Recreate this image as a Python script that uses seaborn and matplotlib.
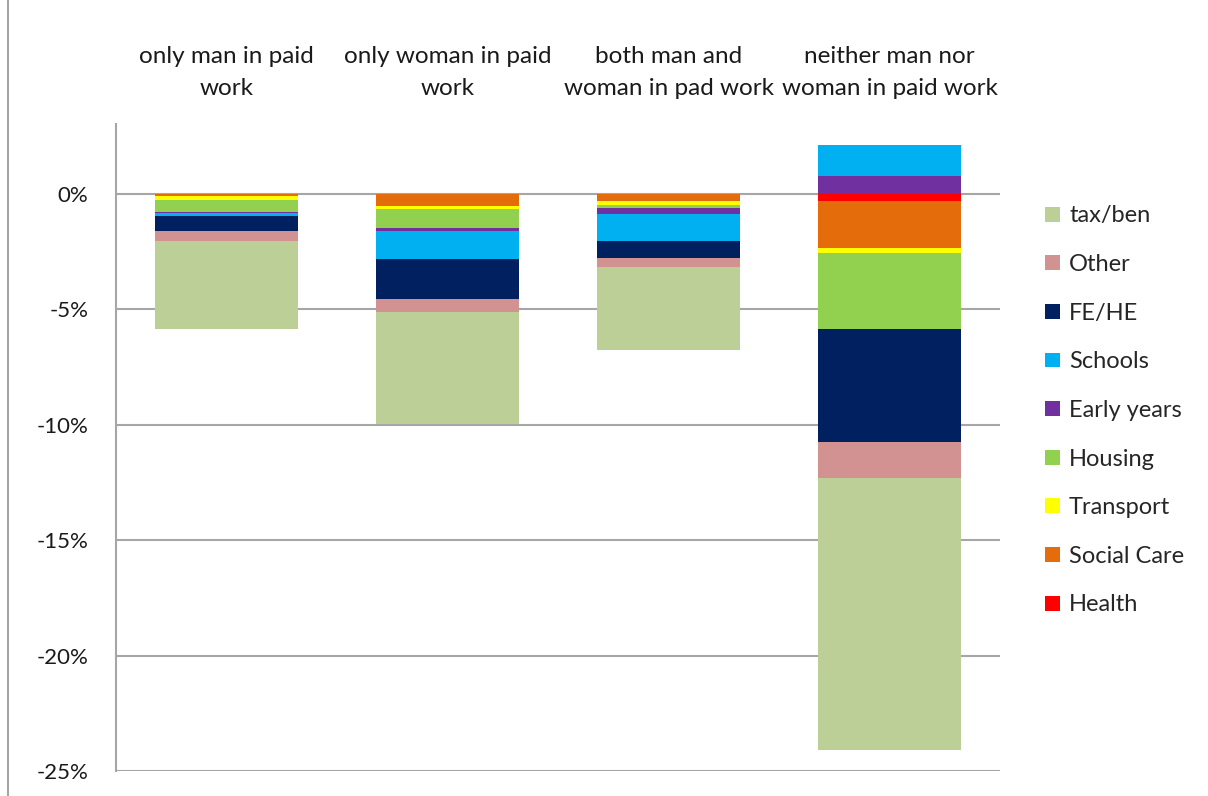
import numpy as np
import pandas as pd
import matplotlib
matplotlib.use("Agg")
import matplotlib.pyplot as plt
import seaborn as sns
from matplotlib.patches import Patch
from matplotlib.lines import Line2D

# Household groups (top category labels)
groups = ["only man in paid\nwork", "only woman in paid\nwork",
          "both man and\nwoman in pad work", "neither man nor\nwoman in paid work"]

# Change as % of income, per service
health = [-0.01, -0.01, -0.01, -0.30]
social_care = [-0.08, -0.50, -0.28, -2.05]
transport = [-0.17, -0.15, -0.18, -0.22]
housing = [-0.53, -0.80, -0.12, -3.26]
early_years = [-0.02, -0.14, -0.29, 0.79]
schools = [-0.15, -1.23, -1.15, 1.31]
fe_he = [-0.66, -1.73, -0.75, -4.92]
other = [-0.42, -0.54, -0.39, -1.57]
tax_ben = [-3.81, -4.86, -3.58, -11.76]

# stack order from zero outwards
series = ["Health", "Social Care", "Transport", "Housing", "Early years",
          "Schools", "FE/HE", "Other", "tax/ben"]
values = [health, social_care, transport, housing, early_years,
          schools, fe_he, other, tax_ben]
colors = {"Health": "#FF0000", "Social Care": "#E46C0A", "Transport": "#FFFF00",
          "Housing": "#92D050", "Early years": "#7030A0", "Schools": "#00B0F0",
          "FE/HE": "#002060", "Other": "#D39292", "tax/ben": "#BBCF97"}

sns.set_style("white")
plt.rcParams["font.family"] = ["Lato", "DejaVu Sans"]

fig = plt.figure(figsize=(12.08, 7.96), dpi=100)
ax = fig.add_axes([116 / 1208, 1 - 771 / 796, 884 / 1208, 647 / 796])

# build cumulative stacks, split into negative and positive parts
vals = np.array(values)
neg = np.cumsum(np.where(vals < 0, vals, 0), axis=0)
pos = np.cumsum(np.where(vals > 0, vals, 0), axis=0)

# draw outermost first so inner segments sit on top
for i in range(len(series) - 1, -1, -1):
    for cum in (neg[i], pos[i]):
        df = pd.DataFrame({"group": groups, "value": cum})
        sns.barplot(data=df, x="group", y="value", order=groups,
                    color=colors[series[i]], saturation=1, width=0.65,
                    linewidth=0, errorbar=None, ax=ax)

ax.set_xlim(-0.5, 3.5)
ax.set_ylim(-25, 3.03)
ax.set_yticks([0, -5, -10, -15, -20, -25])
ax.set_yticklabels(["0%", "-5%", "-10%", "-15%", "-20%", "-25%"])
ax.yaxis.grid(True, color="#a6a6a6", linewidth=1.5)
ax.set_axisbelow(True)
ax.set_xlabel("")
ax.set_ylabel("")

ax.xaxis.tick_top()
ax.set_xticks(range(len(groups)))
ax.set_xticklabels(groups, linespacing=1.62)
ax.tick_params(axis="x", length=0, pad=18, labelsize=17.5, colors="#1a1a1a")
ax.tick_params(axis="y", length=0, pad=20, labelsize=16, colors="#1a1a1a")

for s in ["top", "right", "bottom"]:
    ax.spines[s].set_visible(False)
ax.spines["left"].set_color("#a6a6a6")
ax.spines["left"].set_linewidth(1.5)

# legend, tax/ben at top
handles = [Patch(facecolor=colors[s], edgecolor="none") for s in series[::-1]]
leg = fig.legend(handles, series[::-1], loc="upper left",
                 bbox_to_anchor=(1036 / 1208, 1 - 196 / 796), frameon=False,
                 fontsize=17, handlelength=0.6, handleheight=0.6,
                 handletextpad=0.4, labelspacing=1.17, borderaxespad=0)

# frame line on left edge of the picture
fig.add_artist(Line2D([8 / 1208, 8 / 1208], [0, 1], color="#a6a6a6",
                      linewidth=1.5, transform=fig.transFigure))

fig.savefig("out.png", dpi=100)
